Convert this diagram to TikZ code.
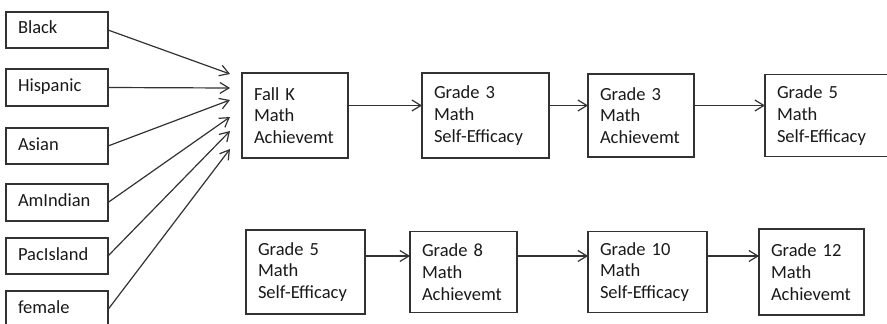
\documentclass[tikz,border=0pt]{standalone}
\usepackage{fontspec}
\setmainfont{Carlito}
\usetikzlibrary{positioning,arrows.meta,calc}
\definecolor{LineGray}{RGB}{50,50,50}
\definecolor{DarkText}{RGB}{25,25,25}

\begin{document}
\begin{tikzpicture}[x=1pt, y=-1pt,
    var/.style={rectangle, draw=LineGray, line width=1.2pt, minimum width=#1,
        text width=#1-24pt, inner xsep=12pt, inner ysep=0pt, outer sep=0pt,
        align=left, text=DarkText, font=\fontsize{18.5}{21.7}\selectfont},
    pred/.style={var=102pt, text height=12pt, text depth=4pt},
    arr/.style={-{Straight Barb[length=9pt, width=11pt]}, line width=1.2pt, LineGray},
]
\useasboundingbox (0,0) rectangle (887,324);

% predictors
\node[pred, minimum height=36pt, anchor=north west] (black) at (6,12) {Black};
\node[pred, minimum height=37pt, below=21pt of black] (hisp) {Hispanic};
\node[pred, minimum height=36pt, below=22pt of hisp] (asian) {Asian};
\node[pred, minimum height=37pt, below=20pt of asian] (amind) {AmIndian};
\node[pred, minimum height=36pt, below=17pt of amind] (pacis) {PacIsland};
\node[pred, minimum height=37pt, below=17pt of pacis] (female) {female};

% first row
\node[var=106pt, minimum height=85pt, anchor=north west] (fk) at (242,73) {Fall K\\Math\\Achievemt};
\node[var=127pt, minimum height=85pt, right=74pt of fk] (g3se) {Grade 3\\Math\\Self-Efficacy};
\node[var=106pt, minimum height=83pt, right=39pt of g3se] (g3a) {Grade 3\\Math\\Achievemt};
\node[var=124pt, minimum height=82pt, right=71pt of g3a] (g5se) {Grade 5\\Math\\Self-Efficacy};

% second row
\node[var=119pt, minimum height=84pt, anchor=north west] (g5seb) at (246,230) {Grade 5\\Math\\Self-Efficacy};
\node[var=107pt, minimum height=81pt, right=45pt of g5seb] (g8a) {Grade 8\\Math\\Achievemt};
\node[var=119pt, minimum height=81pt, right=71pt of g8a] (g10se) {Grade 10\\Math\\Self-Efficacy};
\node[var=105pt, minimum height=86pt, right=52pt of g10se] (g12a) {Grade 12\\Math\\Achievemt};

\draw[arr] (black.east) -- ($(fk.west)+(-12,-41.5)$);
\draw[arr] (hisp.east) -- ($(fk.west)+(-12,-27.5)$);
\draw[arr] (asian.east) -- ($(fk.west)+(-12,-15.5)$);
\draw[arr] (amind.east) -- ($(fk.west)+(-12,1.5)$);
\draw[arr] (pacis.east) -- ($(fk.west)+(-12,15.5)$);
\draw[arr] (female.east) -- ($(fk.west)+(-12,33.5)$);

\draw[arr] ($(fk.east)+(0,-10)$) -- ($(g3se.west)+(0,-10)$);
\draw[arr] ($(g3se.east)+(0,-10)$) -- ($(g3a.west)+(0,-10)$);
\draw[arr] ($(g3a.east)+(0,-10)$) -- ($(g5se.west)+(0,-10)$);

\draw[arr] ($(g5seb.east)+(0,-16)$) -- ($(g8a.west)+(0,-16)$);
\draw[arr] ($(g8a.east)+(0,-16)$) -- ($(g10se.west)+(0,-16)$);
\draw[arr] ($(g10se.east)+(0,-16)$) -- ($(g12a.west)+(0,-16)$);
\end{tikzpicture}
\end{document}
